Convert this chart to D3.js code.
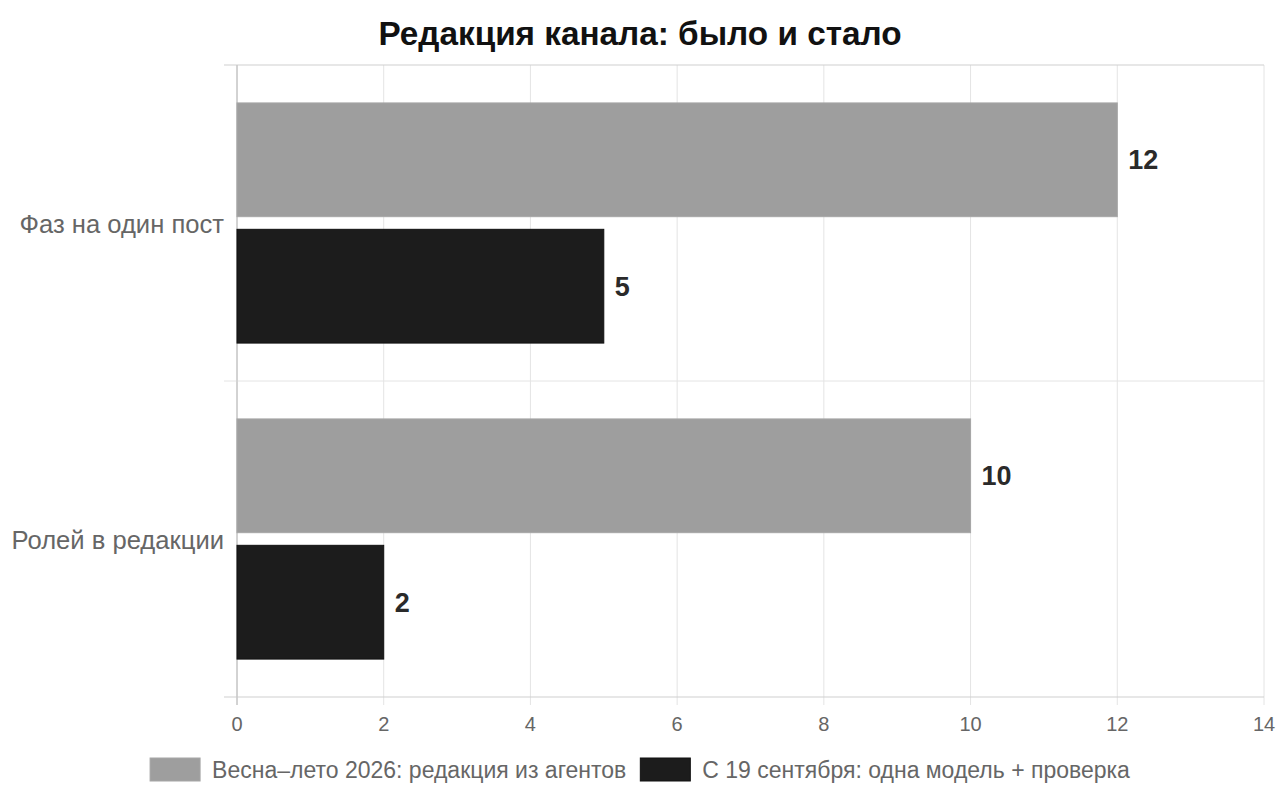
<!DOCTYPE html>
<html>
<head>
<meta charset="utf-8">
<script src="https://cdn.jsdelivr.net/npm/d3@7"></script>
<style>
  html, body { margin: 0; padding: 0; background: #fff; }
  svg { display: block; font-family: "Liberation Sans", Arial, sans-serif; }
</style>
</head>
<body>
<svg id="chart" width="1280" height="794"></svg>
<script>
const title = "Редакция канала: было и стало";
const categories = ["Фаз на один пост", "Ролей в редакции"];
const seriesNames = ["Весна–лето 2026: редакция из агентов", "С 19 сентября: одна модель + проверка"];
const seriesColors = ["#9e9e9e", "#1c1c1c"];
const valuesBefore = [12, 10];
const valuesAfter = [5, 2];
const xTicks = [0, 2, 4, 6, 8, 10, 12, 14];

const svg = d3.select("#chart");
const W = 1280, H = 794;
const m = { left: 237, right: 1264, top: 65, bottom: 697 };

const x = d3.scaleLinear().domain([0, 14]).range([m.left, m.right]);
const y = d3.scaleBand().domain(categories).range([m.top, m.bottom]).padding(0);
const inner = d3.scaleBand().domain(seriesNames)
  .range([y.bandwidth() * 0.1, y.bandwidth() * 0.9])
  .paddingInner(0.1).paddingOuter(0.05);

const data = categories.map((c, i) => ({ cat: c, vals: [valuesBefore[i], valuesAfter[i]] }));

// Title
svg.append("text").attr("x", 640).attr("y", 45).attr("text-anchor", "middle")
  .attr("font-size", 33.3).attr("font-weight", "bold").attr("fill", "#111").text(title);

// Vertical gridlines (x)
svg.append("g").selectAll("line").data(xTicks).join("line")
  .attr("x1", d => x(d)).attr("x2", d => x(d))
  .attr("y1", m.top).attr("y2", m.bottom + 8)
  .attr("stroke", d => d === 0 ? "#c4c4c4" : "#e4e4e4").attr("stroke-width", 1);

// Horizontal gridlines at category boundaries
const bounds = [m.top, ...categories.map(c => y(c) + y.bandwidth())];
svg.append("g").selectAll("line").data(bounds).join("line")
  .attr("x1", m.left - 13).attr("x2", m.right)
  .attr("y1", d => d).attr("y2", d => d)
  .attr("stroke", (d, i) => (i === 0 || i === bounds.length - 1) ? "#cfcfcf" : "#e4e4e4")
  .attr("stroke-width", 1);

// Left axis line
svg.append("line").attr("x1", m.left).attr("x2", m.left).attr("y1", m.top).attr("y2", m.bottom + 8)
  .attr("stroke", "#c4c4c4");

// X tick labels
svg.append("g").selectAll("text").data(xTicks).join("text")
  .attr("x", d => x(d)).attr("y", 731).attr("text-anchor", "middle")
  .attr("font-size", 20).attr("fill", "#666").text(d => d);

// Category labels
svg.append("g").selectAll("text").data(categories).join("text")
  .attr("x", m.left - 13).attr("y", c => y(c) + y.bandwidth() / 2 + 10)
  .attr("text-anchor", "end").attr("font-size", 25.6).attr("fill", "#666").text(c => c);

// Bars
const groups = svg.append("g").selectAll("g").data(data).join("g")
  .attr("transform", d => `translate(0,${y(d.cat)})`);

groups.selectAll("rect").data(d => d.vals.map((v, i) => ({ v, s: seriesNames[i], i }))).join("rect")
  .attr("x", x(0)).attr("y", d => inner(d.s))
  .attr("width", d => x(d.v) - x(0)).attr("height", inner.bandwidth())
  .attr("fill", d => seriesColors[d.i])
  .attr("stroke", d => d.i === 0 ? "#a6a6a6" : "#111").attr("stroke-width", 1);

groups.selectAll("text").data(d => d.vals.map((v, i) => ({ v, s: seriesNames[i], i }))).join("text")
  .attr("x", d => x(d.v) + 11).attr("y", d => inner(d.s) + inner.bandwidth() / 2 + 9.5)
  .attr("font-size", 27).attr("font-weight", "bold").attr("fill", "#2a2a2a").text(d => d.v);

// Legend
const legend = svg.append("g");
const boxW = 50, boxH = 23, gapText = 12, gapItem = 14;
const items = seriesNames.map((s, i) => {
  const g = legend.append("g");
  g.append("rect").attr("width", boxW).attr("height", boxH).attr("fill", seriesColors[i])
    .attr("stroke", i === 0 ? "#a6a6a6" : "#111");
  const t = g.append("text").attr("x", boxW + gapText).attr("y", boxH / 2 + 8.5)
    .attr("font-size", 23).attr("fill", "#666").text(s);
  return { g, w: boxW + gapText + t.node().getComputedTextLength() };
});
const total = d3.sum(items, d => d.w) + gapItem * (items.length - 1);
let cx = W / 2 - total / 2;
items.forEach(it => { it.g.attr("transform", `translate(${cx},758)`); cx += it.w + gapItem; });
</script>
</body>
</html>
